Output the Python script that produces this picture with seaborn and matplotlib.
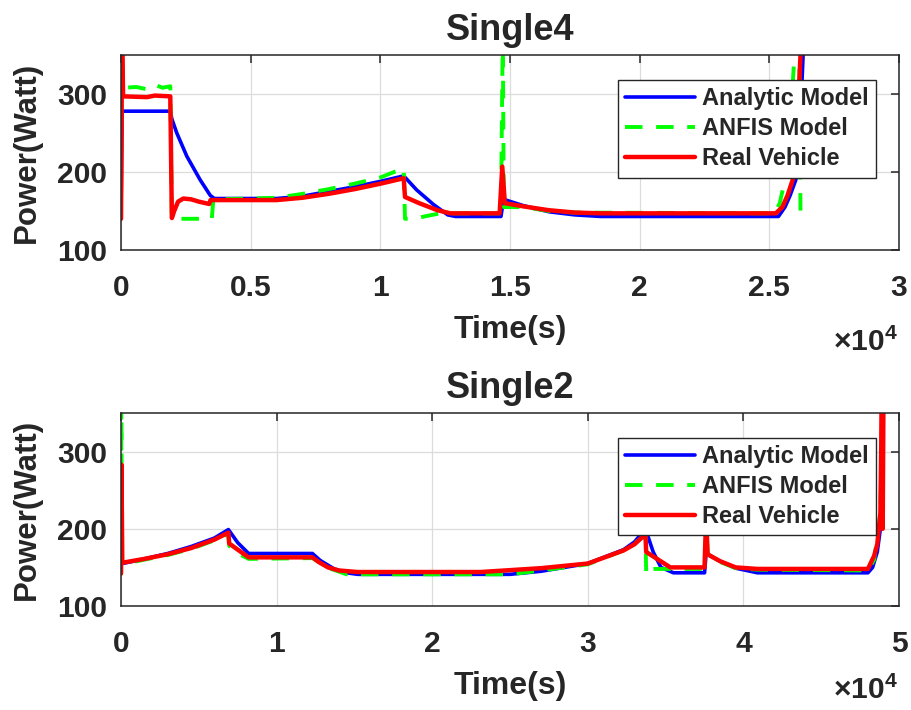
import numpy as np
import pandas as pd
import matplotlib
matplotlib.use("Agg")
import matplotlib.pyplot as plt
import seaborn as sns
from matplotlib.ticker import FuncFormatter, MultipleLocator

sns.set_style("whitegrid")
plt.rcParams['font.family'] = ['Liberation Sans', 'DejaVu Sans']
plt.rcParams['font.weight'] = 'bold'
plt.rcParams['mathtext.fontset'] = 'custom'
plt.rcParams['mathtext.rm'] = 'Liberation Sans'
plt.rcParams['mathtext.bf'] = 'Liberation Sans:bold'

# ---- Single4 (time in seconds, power in watt) ----
s4_t_analytic = [0, 40, 1000, 1900, 1960, 2150, 2540, 3050, 3440, 3600, 6000, 7000, 8000,
                 9000, 10000, 10900, 11400, 12060, 12600, 12900, 14650, 14750,
                 15500, 16500, 17500, 18500, 25350, 25600, 25800, 26020, 26150, 26300, 26400]
s4_p_analytic = [145, 278, 278, 278, 268, 250, 220, 190, 170, 166, 166, 169, 175,
                 181, 188, 195, 177, 158, 145, 143, 143, 165,
                 157, 149, 145, 143, 143, 155, 170, 190, 230, 350, 380]

s4_t_anfis = [0, 20, 60, 600, 1000, 1300, 1600, 1900, 1960, 3500, 3560, 5000, 6000, 7000,
              8000, 9000, 10000, 10900, 10950, 11300, 11700, 12300, 14650, 14720, 14760,
              15500, 16500, 17500, 25200, 25400, 25600, 25800, 25950, 26000, 26150, 26200]
s4_p_anfis = [140, 380, 308, 309, 306, 312, 308, 310, 140, 140, 165, 166, 167, 172,
              178, 185, 193, 205, 140, 140, 143, 147, 147, 380, 155,
              155, 150, 148, 147, 160, 190, 260, 340, 380, 380, 145]

s4_t_real = [0, 40, 80, 1000, 1300, 1900, 1960, 2050, 2200, 2400, 2700, 3000, 3400, 3450,
             5000, 6000, 7000, 8000, 9000, 10000, 10900, 10950, 11500, 12200, 12700,
             14600, 14700, 14800, 15500, 16500, 17500, 18500, 25250, 25500, 25700, 25900,
             26050, 26200, 26300]
s4_p_real = [140, 380, 297, 296, 298, 297, 141, 150, 162, 166, 165, 162, 159, 164,
             164, 164, 167, 172, 178, 185, 192, 168, 160, 151, 147,
             147, 207, 160, 156, 151, 148, 147, 147, 155, 170, 190,
             240, 350, 380]

# ---- Single2 ----
s2_t_analytic = [0, 80, 1500, 3000, 4500, 6000, 6900, 7500, 8200, 12300, 12800, 13700, 14500,
                 15200, 25000, 27000, 30000, 32300, 33000, 33700, 34200, 34700, 35500,
                 37500, 37600, 38500, 39500, 40900, 48000, 48300, 48600, 48800, 48900, 49000]
s2_p_analytic = [153, 155, 161, 168, 177, 188, 199, 182, 168, 168, 159, 148, 143,
                 141, 141, 145, 155, 173, 183, 200, 170, 150, 143,
                 143, 168, 158, 149, 143, 143, 150, 170, 200, 250, 380]

s2_t_anfis = [0, 20, 60, 1500, 3000, 4500, 6000, 6900, 6950, 7500, 8200, 12300, 12800, 13500,
              14500, 25000, 27000, 30000, 32300, 33000, 33700, 33750, 33900, 34100, 35300,
              37500, 37600, 37700, 38500, 39500, 40900, 48000, 48400, 48800, 48950]
s2_p_anfis = [140, 380, 154, 160, 166, 174, 185, 193, 178, 168, 161, 162, 156, 148,
              141, 141, 146, 154, 172, 181, 192, 145, 153, 148, 148,
              148, 215, 166, 157, 149, 147, 146, 160, 220, 380]

s2_t_real = [0, 30, 80, 1500, 3000, 4500, 6000, 6900, 6950, 7500, 8200, 12300, 12700, 13300,
             14000, 15200, 23100, 27000, 30000, 32300, 33000, 33700, 33750, 35300, 37500,
             37600, 37700, 38500, 39500, 40900, 48000, 48400, 48600, 48800, 48900, 48950, 49000]
s2_p_real = [142, 283, 156, 161, 167, 175, 186, 195, 181, 173, 163, 163, 157, 150,
             146, 144, 144, 149, 155, 172, 180, 193, 170, 150, 150,
             215, 167, 158, 150, 148, 148, 165, 180, 220, 380, 200, 380]

series_names = ['Analytic Model', 'ANFIS Model', 'Real Vehicle']
series_colors = ['#0000ff', '#00ff00', '#ff0000']

panels = [
    ('Single4', 30000, 5000,
     [(s4_t_analytic, s4_p_analytic), (s4_t_anfis, s4_p_anfis), (s4_t_real, s4_p_real)]),
    ('Single2', 50000, 10000,
     [(s2_t_analytic, s2_p_analytic), (s2_t_anfis, s2_p_anfis), (s2_t_real, s2_p_real)]),
]

fig = plt.figure(figsize=(9.12, 7.10), dpi=100)
axes_boxes = [[0.1327, 0.6479, 0.8531, 0.2746], [0.1327, 0.1465, 0.8531, 0.2718]]
offset_y = [1 - 351 / 710, 5 / 710]

for i, (title, xmax, xstep, data) in enumerate(panels):
    ax = fig.add_axes(axes_boxes[i])
    for (t, p), name, col in zip(data, series_names, series_colors):
        df = pd.DataFrame({'Time': t, 'Power': p})
        if name == 'ANFIS Model':
            sns.lineplot(data=df, x='Time', y='Power', ax=ax, color=col, lw=2.8,
                         label=name, sort=False, estimator=None, linestyle=(0, (4.5, 3.5)))
        else:
            sns.lineplot(data=df, x='Time', y='Power', ax=ax, color=col,
                         lw=3.2 if name == 'Real Vehicle' else 2.6,
                         label=name, sort=False, estimator=None)

    ax.set_xlim(0, xmax)
    ax.set_ylim(100, 350)
    ax.xaxis.set_major_locator(MultipleLocator(xstep))
    ax.yaxis.set_major_locator(MultipleLocator(100))
    ax.xaxis.set_major_formatter(FuncFormatter(lambda v, pos: f"{v / 1e4:g}"))
    ax.grid(True, color='#dcdcdc', linewidth=0.9)
    for sp in ax.spines.values():
        sp.set_color('#262626')
        sp.set_linewidth(1.1)
    ax.tick_params(direction='in', length=6, width=1.1, top=True, right=True,
                   colors='#262626', labelsize=21.6)
    ax.tick_params(axis='x', pad=17)
    ax.tick_params(axis='y', pad=10)
    ax.set_title(title, fontsize=26, fontweight='bold', pad=11)
    ax.set_xlabel('Time(s)', fontsize=23, fontweight='bold', labelpad=10, color='#262626')
    ax.set_ylabel('Power(Watt)', fontsize=22.5, fontweight='bold', labelpad=11, color='#262626')
    leg = ax.legend(loc='upper right', bbox_to_anchor=(0.970, 0.871), borderaxespad=0,
                    fontsize=17, frameon=True, fancybox=False, framealpha=1,
                    handlelength=2.95, handletextpad=0.3, labelspacing=0.3, borderpad=0.3)
    leg.get_frame().set_edgecolor('#262626')
    leg.get_frame().set_linewidth(1.0)
    fig.text(898 / 912, offset_y[i], r'$\times\mathbf{10^{4}}$', ha='right',
             va='baseline' if i == 0 else 'bottom', fontsize=21.6, color='#262626')

fig.savefig('out.png', dpi=100)
